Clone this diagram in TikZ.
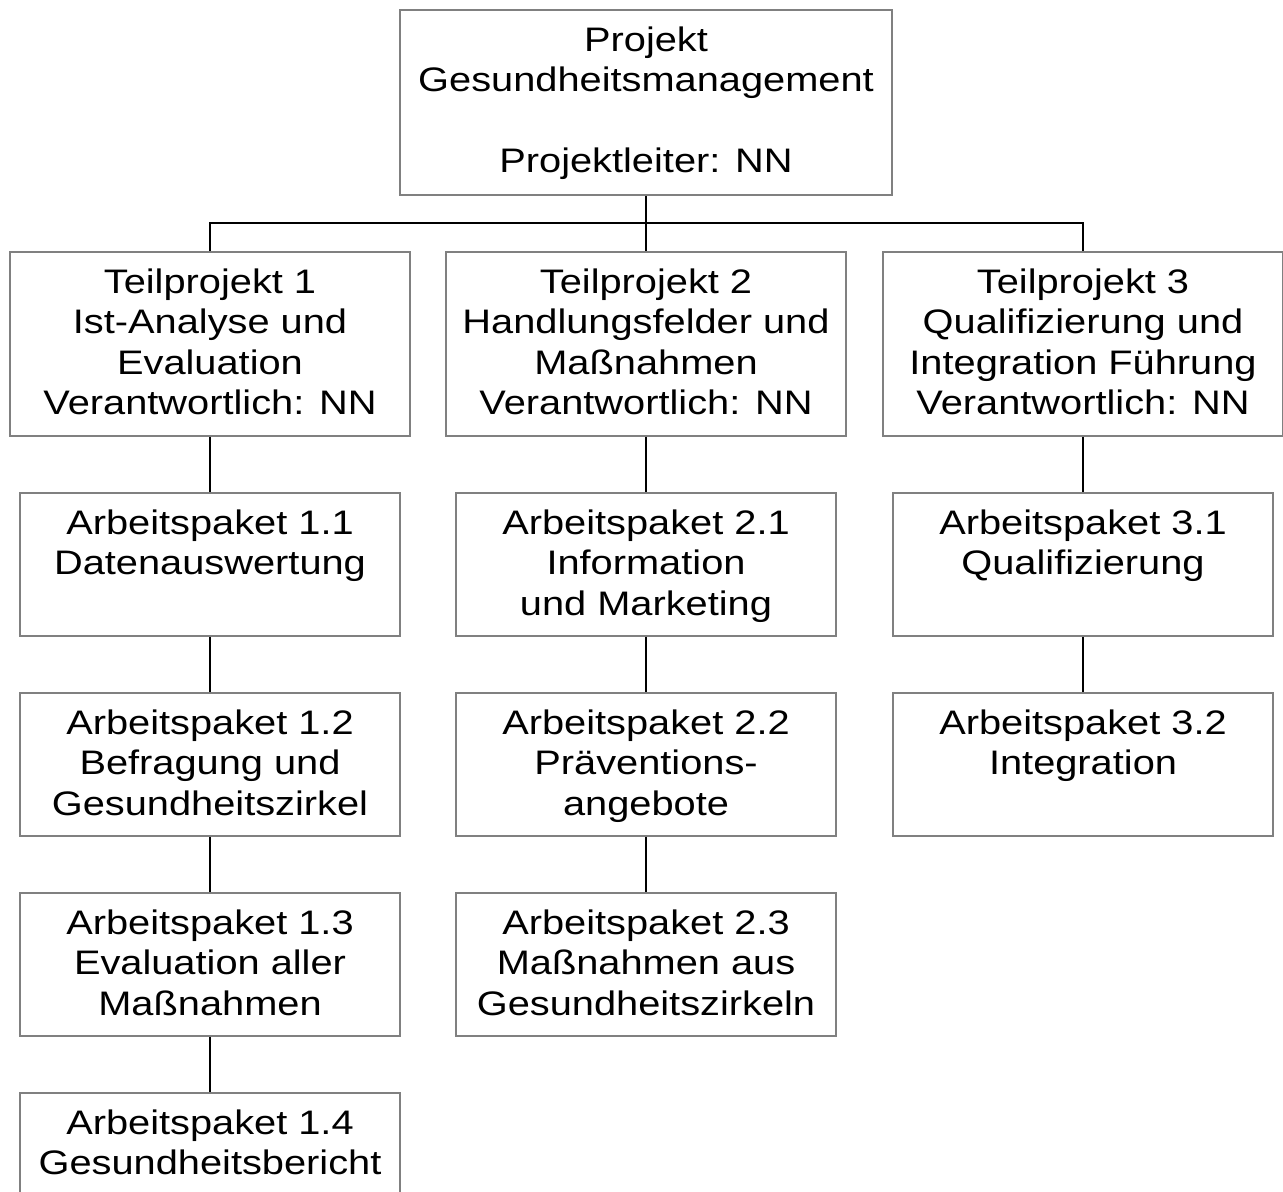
\documentclass[tikz,border=0pt]{standalone}
\usepackage{fontspec}
\setmainfont{Liberation Sans}[FakeStretch=1.17]
\begin{document}
\begin{tikzpicture}[x=0.5pt,y=-0.5pt,
  box/.style={draw=black!50,line width=0.8pt,fill=white,inner sep=0pt,minimum height=71.5pt},
  tpbox/.style={box,minimum width=200pt,minimum height=92pt},
  apbox/.style={box,minimum width=190pt},
  txt/.style={anchor=north,inner sep=0pt,align=center,font=\fontsize{17}{20.25}\selectfont,yshift=-8.5pt},
  conn/.style={draw=black,line width=1pt}]
\useasboundingbox (0,0) rectangle (1283,1191);
\clip (0,0) rectangle (1283,1191);
% top
\node[box,minimum width=246pt,minimum height=92.5pt] (top) at (646,102.5) {};
\node[txt] (ttop) at (top.north) {Projekt\\Gesundheitsmanagement\\[20.25pt]Projektleiter: NN};
% Teilprojekte
\node[tpbox] (tp1) at (210,344) {};
\node[tpbox] (tp2) at (646,344) {};
\node[tpbox] (tp3) at (1083,344) {};
\node[txt] at (tp1.north) {Teilprojekt 1\\Ist-Analyse und\\Evaluation\\Verantwortlich: NN};
\node[txt] at (tp2.north) {Teilprojekt 2\\Handlungsfelder und\\Maßnahmen\\Verantwortlich: NN};
\node[txt] at (tp3.north) {Teilprojekt 3\\Qualifizierung und\\Integration Führung\\Verantwortlich: NN};
% Arbeitspakete
\node[apbox] (a11) at (210,564.5) {};
\node[apbox] (a12) at (210,764.5) {};
\node[apbox] (a13) at (210,964.5) {};
\node[apbox] (a14) at (210,1164.5) {};
\node[apbox] (a21) at (646,564.5) {};
\node[apbox] (a22) at (646,764.5) {};
\node[apbox] (a23) at (646,964.5) {};
\node[apbox] (a31) at (1083,564.5) {};
\node[apbox] (a32) at (1083,764.5) {};
\node[txt] at (a11.north) {Arbeitspaket 1.1\\Datenauswertung};
\node[txt] at (a12.north) {Arbeitspaket 1.2\\Befragung und\\Gesundheitszirkel};
\node[txt] at (a13.north) {Arbeitspaket 1.3\\Evaluation aller\\Maßnahmen};
\node[txt] at (a14.north) {Arbeitspaket 1.4\\Gesundheitsbericht};
\node[txt] at (a21.north) {Arbeitspaket 2.1\\Information\\und Marketing};
\node[txt] at (a22.north) {Arbeitspaket 2.2\\Präventions-\\angebote};
\node[txt] at (a23.north) {Arbeitspaket 2.3\\Maßnahmen aus\\Gesundheitszirkeln};
\node[txt] at (a31.north) {Arbeitspaket 3.1\\Qualifizierung};
\node[txt] at (a32.north) {Arbeitspaket 3.2\\Integration};
% connectors
\coordinate (bus) at (646,223);
\draw[conn] (top.south) -- (bus);
\draw[conn] (bus) -| (tp1.north);
\draw[conn] (bus) -| (tp3.north);
\draw[conn] (bus) -- (tp2.north);
\draw[conn] (tp1.south) -- (a11.north);
\draw[conn] (a11.south) -- (a12.north);
\draw[conn] (a12.south) -- (a13.north);
\draw[conn] (a13.south) -- (a14.north);
\draw[conn] (tp2.south) -- (a21.north);
\draw[conn] (a21.south) -- (a22.north);
\draw[conn] (a22.south) -- (a23.north);
\draw[conn] (tp3.south) -- (a31.north);
\draw[conn] (a31.south) -- (a32.north);
\end{tikzpicture}
\end{document}
